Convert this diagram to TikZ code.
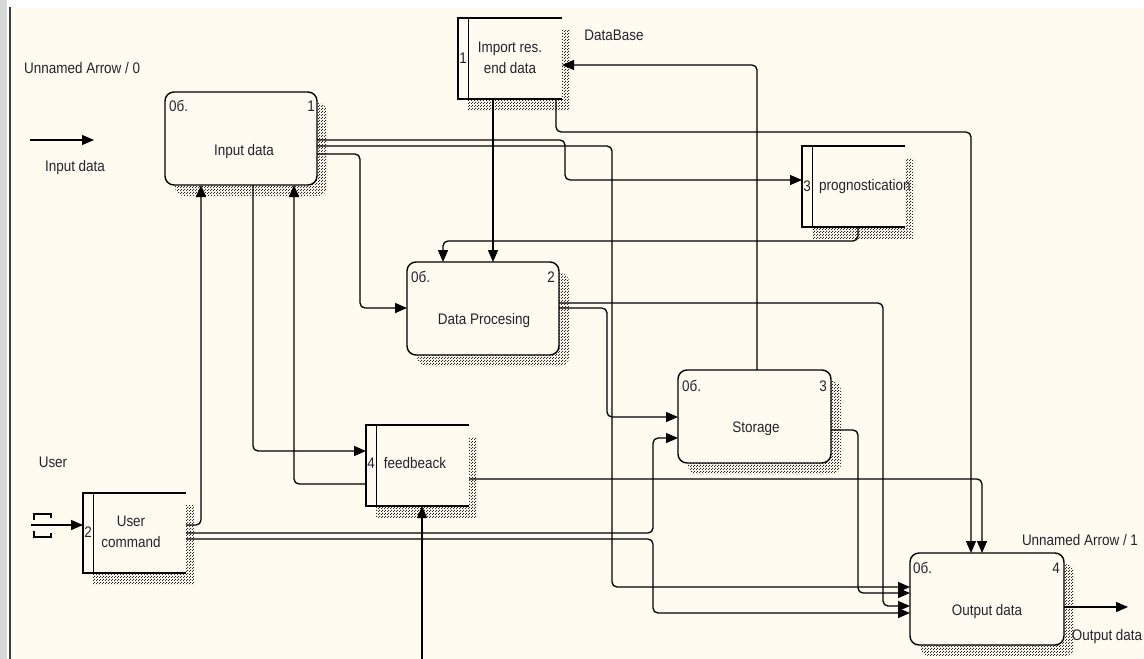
\documentclass[tikz,border=0pt]{standalone}
\usepackage{fontspec}
\setmainfont[FakeStretch=0.88]{Liberation Sans}
\usetikzlibrary{arrows.meta,patterns,backgrounds}
\definecolor{cream}{RGB}{255,251,240}
\definecolor{frame}{RGB}{64,64,64}
\definecolor{edgegray}{RGB}{215,215,215}
\definecolor{txt}{RGB}{35,35,45}
\pgfdeclarepatternformonly{hatchdots}{\pgfqpoint{0pt}{0pt}}{\pgfqpoint{3pt}{3pt}}{\pgfqpoint{3pt}{3pt}}{%
  \pgfpathrectangle{\pgfqpoint{0pt}{0pt}}{\pgfqpoint{1.3pt}{1.3pt}}%
  \pgfpathrectangle{\pgfqpoint{1.5pt}{1.5pt}}{\pgfqpoint{1.3pt}{1.3pt}}%
  \pgfusepath{fill}}
\begin{document}
\begin{tikzpicture}[x=1pt,y=-1pt,
  conn/.style={line width=1.3pt, rounded corners=5pt},
  arr/.style={conn,-{Triangle[length=12pt,width=10pt]}},
  rbox/.style={draw, line width=1.4pt, rounded corners=9pt, fill=cream, anchor=north west, outer sep=0pt, inner sep=0pt},
  ebox/.style={fill=cream, anchor=north west, outer sep=0pt, inner sep=0pt},
  bline/.style={line width=1.3pt},
  shd/.style={pattern=hatchdots, pattern color=black!85},
  lbl/.style={font=\fontsize{15.3}{21}\selectfont, text=txt, inner sep=0pt},
]
\useasboundingbox (0,0) rectangle (1144,659);
\begin{scope}[on background layer]
  \fill[white] (0,0) rectangle (1144,659);
  \fill[cream] (12,8) rectangle (1144,659);
  \fill[edgegray] (0,0) rectangle (7,659);
  \draw[frame, line width=2.5pt] (10,7) -- (10,659);
\end{scope}

% rounded process boxes
\node[rbox, minimum width=152pt, minimum height=93pt] (inp) at (165,92) {};
\node[rbox, minimum width=152pt, minimum height=93pt] (dp) at (407,262) {};
\node[rbox, minimum width=153pt, minimum height=93pt] (st) at (678,370) {};
\node[rbox, minimum width=154pt, minimum height=92pt] (out) at (910,553) {};

% open-right boxes
\node[ebox, minimum width=104pt, minimum height=81pt] (imp) at (458,18) {};
\node[ebox, minimum width=103pt, minimum height=81pt] (prog) at (802,146) {};
\node[ebox, minimum width=103pt, minimum height=81pt] (fb) at (366,425) {};
\node[ebox, minimum width=103pt, minimum height=80pt] (uc) at (83,493) {};

\begin{scope}[on background layer]
  \foreach \n in {inp,dp,st,out}
    \fill[shd, rounded corners=9pt] ([xshift=10pt,yshift=-11pt]\n.north west) rectangle ([xshift=10pt,yshift=-11pt]\n.south east);
  \foreach \n in {imp,prog,fb,uc}
    \fill[shd] ([xshift=10pt,yshift=-12pt]\n.north west) rectangle ([xshift=8pt,yshift=-11pt]\n.south east);
\end{scope}

\foreach \n in {imp,prog,fb,uc} {
  \draw[bline] (\n.north east) -- (\n.north west) -- (\n.south west) -- (\n.south east);
  \draw[bline] ([xshift=10.5pt]\n.north west) -- ([xshift=10.5pt]\n.south west);
}

% labels in rounded boxes
\node[lbl, anchor=west] (inpc) at (169,106) {0б.};
\node[lbl, anchor=east] (inpn) at (315,106) {1};
\node[lbl] (inpt) at (244,152) {Input data};
\node[lbl, anchor=west] (dpc) at (411,277) {0б.};
\node[lbl, anchor=east] (dpn) at (555,277) {2};
\node[lbl] (dpt) at (484,321) {Data Procesing};
\node[lbl, anchor=west] (stc) at (682,386) {0б.};
\node[lbl, anchor=east] (stn) at (827,386) {3};
\node[lbl] (stt) at (756,429) {Storage};
\node[lbl, anchor=west] (outc) at (913,568) {0б.};
\node[lbl, anchor=east] (outn) at (1060,568) {4};
\node[lbl] (outt) at (987,612) {Output data};

% labels in open boxes
\node[lbl] (impn) at (463,58) {1};
\node[lbl, align=center] (impt) at (510,57.5) {Import res.\\end data};
\node[lbl] (progn) at (807,186) {3};
\node[lbl, anchor=west] (progt) at (819,187) {prognostication};
\node[lbl] (fbn) at (371,463) {4};
\node[lbl] (fbt) at (415,463) {feedbeack};
\node[lbl] (ucn) at (88,532) {2};
\node[lbl, align=center] (uct) at (131,531.5) {User\\command};

% free labels
\node[lbl, anchor=west] (ua0) at (24,68) {Unnamed Arrow / 0};
\node[lbl] (lin) at (75,168) {Input data};
\node[lbl] (ldb) at (614,35) {DataBase};
\node[lbl] (luser) at (53,462) {User};
\node[lbl] (ua1) at (1080,540) {Unnamed Arrow / 1};
\node[lbl] (lout) at (1107,637) {Output data};

% legend arrow
\coordinate (la1) at (30,140);
\coordinate (la2) at (94,140);
\draw[arr] (la1) -- (la2);

% tunnel bracket and user input
\draw[line width=1.3pt] (51,518) -- (51,514) -- (34,514) -- (34,520);
\draw[line width=1.3pt] (51,533) -- (51,537) -- (34,537) -- (34,531);
\coordinate (br) at (31,525);
\draw[arr] (br) -- (uc.west |- 0,525);

% connectors
\draw[arr] (imp.south -| 556,0) -- (556,132) -- (971,132) -- (out.north -| 971,0);
\draw[arr] (imp.south -| 493,0) -- (dp.north -| 493,0);
\draw[arr] (st.north -| 757,0) -- (757,65) -- (imp.east |- 0,65);
\draw[arr] (inp.east |- 0,140) -- (565,140) -- (565,180) -- (prog.west |- 0,180);
\draw[arr] (inp.east |- 0,146) -- (612,146) -- (612,587) -- (out.west |- 0,587);
\draw[arr] (inp.east |- 0,154) -- (360,154) -- (360,308) -- (dp.west |- 0,308);
\draw[arr] (prog.south -| 858,0) -- (858,241) -- (443,241) -- (dp.north -| 443,0);
\draw[arr] (dp.east |- 0,303) -- (883,303) -- (883,606) -- (out.west |- 0,606);
\draw[arr] (dp.east |- 0,308) -- (607,308) -- (607,417) -- (st.west |- 0,417);
\draw[arr] (st.east |- 0,430) -- (858,430) -- (858,593) -- (out.west |- 0,593);
\draw[arr] (uc.east |- 0,525) -- (201,525) -- (inp.south -| 201,0);
\draw[arr] (uc.east |- 0,533) -- (653,533) -- (653,438) -- (st.west |- 0,438);
\draw[arr] (uc.east |- 0,539) -- (653,539) -- (653,613) -- (out.west |- 0,613);
\draw[arr] (inp.south -| 253,0) -- (253,451) -- (fb.west |- 0,451);
\draw[arr] (fb.west |- 0,484) -- (294,484) -- (inp.south -| 294,0);
\draw[arr] (fb.east |- 0,479) -- (982,479) -- (out.north -| 982,0);
\coordinate (fbsrc) at (422,659);
\draw[arr] (fbsrc) -- (fb.south -| 422,0);
\coordinate (outend) at (1128,607);
\draw[arr] (out.east |- 0,607) -- (outend);
\end{tikzpicture}
\end{document}
